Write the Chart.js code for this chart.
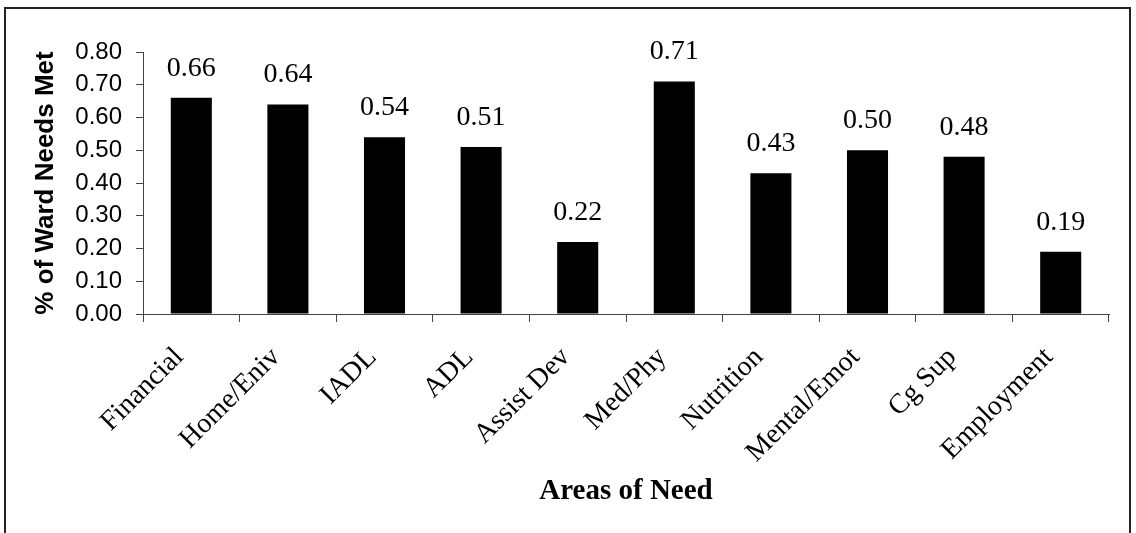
<!DOCTYPE html>
<html>
<head>
<meta charset="utf-8">
<script src="https://cdn.jsdelivr.net/npm/chart.js@4.4.1/dist/chart.umd.min.js"></script>
<style>
  html, body { margin: 0; padding: 0; background: #fff; }
  #wrap { width: 1136px; height: 533px; position: relative; }
</style>
</head>
<body>
<div id="wrap"><canvas id="c" width="1136" height="533"></canvas></div>
<script>
const categories = ['Financial', 'Home/Eniv', 'IADL', 'ADL', 'Assist Dev', 'Med/Phy', 'Nutrition', 'Mental/Emot', 'Cg Sup', 'Employment'];
const needsMet = [0.66, 0.64, 0.54, 0.51, 0.22, 0.71, 0.43, 0.50, 0.48, 0.19];
const yTicks = [0, 0.1, 0.2, 0.3, 0.4, 0.5, 0.6, 0.7, 0.8];

const serif = '"Liberation Serif", "Times New Roman", serif';
const sans = '"Liberation Sans", Arial, sans-serif';
const axisColor = '#444';

// White page and the frame round the whole figure
const framePlugin = {
  id: 'frame',
  beforeDraw(chart) {
    const ctx = chart.ctx;
    ctx.save();
    ctx.fillStyle = '#fff';
    ctx.fillRect(0, 0, chart.width, chart.height);
    ctx.restore();
  },
  afterDraw(chart) {
    const ctx = chart.ctx;
    ctx.save();
    ctx.strokeStyle = '#222';
    ctx.lineWidth = 2;
    ctx.strokeRect(5, 8, 1125, 540);
    ctx.restore();
  }
};

// Value printed above each bar
const valueLabels = {
  id: 'valueLabels',
  afterDatasetsDraw(chart) {
    const ctx = chart.ctx;
    const meta = chart.getDatasetMeta(0);
    ctx.save();
    ctx.font = '28px ' + serif;
    ctx.fillStyle = '#000';
    ctx.textAlign = 'center';
    ctx.textBaseline = 'alphabetic';
    meta.data.forEach((bar, i) => {
      ctx.fillText(needsMet[i].toFixed(2), bar.x, bar.y - 22);
    });
    ctx.restore();
  }
};

new Chart(document.getElementById('c'), {
  type: 'bar',
  data: {
    labels: categories,
    datasets: [{
      data: needsMet,
      backgroundColor: '#000',
      borderWidth: 0,
      categoryPercentage: 1,
      barPercentage: 0.425
    }]
  },
  options: {
    responsive: false,
    animation: false,
    layout: { padding: { top: 52, right: 27, bottom: 0, left: 0 } },
    plugins: { legend: { display: false }, tooltip: { enabled: false } },
    scales: {
      x: {
        grid: { offset: true, drawOnChartArea: false, drawTicks: true, tickLength: 8, color: axisColor },
        border: { display: true, color: axisColor, width: 1 },
        ticks: {
          maxRotation: 45, minRotation: 45, autoSkip: false,
          padding: 19,
          labelOffset: -12,
          color: '#000',
          font: { family: serif, size: 28 }
        },
        title: {
          display: true, text: 'Areas of Need', color: '#000',
          font: { family: serif, size: 29, weight: 'bold' },
          padding: { top: 0, bottom: 24 }
        },
        afterFit(scale) { scale.height = 219; }
      },
      y: {
        min: 0, max: 0.8,
        afterBuildTicks(scale) { scale.ticks = yTicks.map(v => ({ value: v })); },
        grid: { drawOnChartArea: false, drawTicks: true, tickLength: 7, color: axisColor },
        border: { display: true, color: axisColor, width: 1 },
        ticks: {
          padding: 14,
          color: '#000',
          font: { family: sans, size: 24 },
          callback: v => Number(v).toFixed(2)
        },
        title: {
          display: true, text: '% of Ward Needs Met', color: '#000',
          font: { family: sans, size: 26, weight: 'bold' },
          padding: { top: 30, bottom: 0 }
        },
        afterFit(scale) { scale.width = 143; }
      }
    }
  },
  plugins: [framePlugin, valueLabels]
});
</script>
</body>
</html>
